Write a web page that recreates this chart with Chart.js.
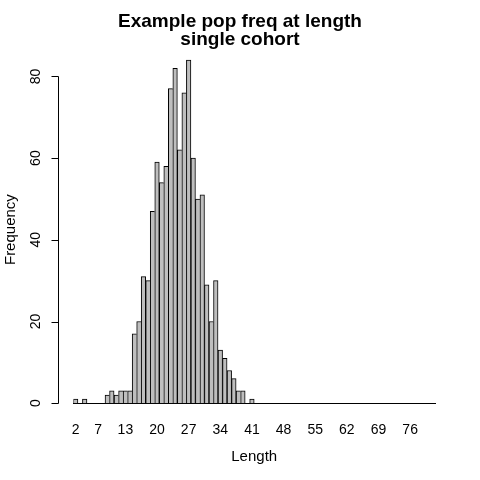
<!DOCTYPE html>
<html>
<head>
<meta charset="utf-8">
<script src="https://cdn.jsdelivr.net/npm/chart.js@4"></script>
<style>
  html, body { margin: 0; padding: 0; background: #fff; }
  #wrap { width: 480px; height: 480px; }
</style>
</head>
<body>
<div id="wrap"><canvas id="histChart"></canvas></div>
<script>
const lengths = [2, 3, 4, 5, 6, 7, 8, 9, 10, 11, 12, 13, 14, 15, 16, 17, 18, 19, 20, 21,
  22, 23, 24, 25, 26, 27, 28, 29, 30, 31, 32, 33, 34, 35, 36, 37, 38, 39, 40, 41,
  42, 43, 44, 45, 46, 47, 48, 49, 50, 51, 52, 53, 54, 55, 56, 57, 58, 59, 60, 61,
  62, 63, 64, 65, 66, 67, 68, 69, 70, 71, 72, 73, 74, 75, 76, 77, 78, 79, 80, 81];
const freq = [1, 0, 1, 0, 0, 0, 0, 2, 3, 2, 3, 3, 3, 17, 20, 31, 30, 47, 59, 54,
  58, 77, 82, 62, 76, 84, 60, 50, 51, 29, 20, 30, 13, 11, 8, 6, 3, 3, 0, 1,
  0, 0, 0, 0, 0, 0, 0, 0, 0, 0, 0, 0, 0, 0, 0, 0, 0, 0, 0, 0,
  0, 0, 0, 0, 0, 0, 0, 0, 0, 0, 0, 0, 0, 0, 0, 0, 0, 0, 0, 0];
const xTickLabels = [2, 7, 13, 20, 27, 34, 41, 48, 55, 62, 69, 76];
const yTicks = [0, 20, 40, 60, 80];

const FONT = "'Liberation Sans', Arial, Helvetica, sans-serif";

// R style left axis: line from first to last tick, rotated labels
const rAxisY = {
  id: "rAxisY",
  afterDraw(chart) {
    const { ctx, scales: { y } } = chart;
    const axisX = 58.5;
    ctx.save();
    ctx.strokeStyle = "#000";
    ctx.lineWidth = 1;
    ctx.beginPath();
    ctx.moveTo(axisX, Math.round(y.getPixelForValue(yTicks[0])) + 0.5);
    ctx.lineTo(axisX, Math.round(y.getPixelForValue(yTicks[yTicks.length - 1])) + 0.5);
    yTicks.forEach((v) => {
      const py = Math.round(y.getPixelForValue(v)) + 0.5;
      ctx.moveTo(axisX - 7, py);
      ctx.lineTo(axisX, py);
    });
    ctx.stroke();
    ctx.fillStyle = "#000";
    ctx.font = "14px " + FONT;
    ctx.textAlign = "center";
    ctx.textBaseline = "alphabetic";
    yTicks.forEach((v) => {
      ctx.save();
      ctx.translate(40, y.getPixelForValue(v));
      ctx.rotate(-Math.PI / 2);
      ctx.fillText(String(v), 0, 0);
      ctx.restore();
    });
    ctx.restore();
  },
};

new Chart(document.getElementById("histChart"), {
  type: "bar",
  data: {
    labels: lengths,
    datasets: [
      {
        data: freq,
        backgroundColor: "#bebebe",
        borderColor: "#000",
        borderSkipped: false,
        borderWidth: (c) => {
          const v = freq[c.dataIndex];
          const next = c.dataIndex + 1 < freq.length ? freq[c.dataIndex + 1] : 0;
          return { top: 1, left: 1, right: next < v ? 1 : 0, bottom: 0 };
        },
        categoryPercentage: 1,
        barPercentage: 1,
      },
    ],
  },
  options: {
    responsive: true,
    maintainAspectRatio: false,
    animation: false,
    layout: { padding: { left: 0, right: 0, top: 0, bottom: 14 } },
    plugins: {
      legend: { display: false },
      tooltip: { enabled: false },
      title: {
        display: true,
        text: ["Example pop freq at length", "single cohort"],
        color: "#000",
        font: { family: FONT, size: 19, weight: "bold", lineHeight: "18px" },
        padding: { top: 13.1, bottom: 6.9 },
      },
    },
    scales: {
      x: {
        grid: { display: false, drawTicks: false },
        border: { display: true, color: "#000", width: 1 },
        ticks: {
          autoSkip: false,
          maxRotation: 0,
          minRotation: 0,
          padding: 19,
          color: "#000",
          font: { family: FONT, size: 14 },
          callback: function (value) {
            const lab = lengths[value];
            return xTickLabels.includes(lab) ? String(lab) : "";
          },
        },
        title: {
          display: true,
          text: "Length",
          color: "#000",
          font: { family: FONT, size: 15 },
          // tick padding is counted twice in the axis height, so pull the title box back up
          padding: { top: -10, bottom: 0 },
        },
      },
      y: {
        min: 0,
        max: 85,
        grid: { display: false, drawTicks: false },
        border: { display: false },
        ticks: { display: false },
        title: {
          display: true,
          text: "Frequency",
          color: "#000",
          font: { family: FONT, size: 15 },
          padding: { top: 2, bottom: 53.4 },
        },
      },
      // empty right margin so the main title stays centred on the whole page
      yRight: {
        position: "right",
        display: true,
        grid: { display: false, drawTicks: false },
        border: { display: false },
        ticks: { display: false },
        afterFit: (s) => { s.width = 45; },
      },
    },
  },
  plugins: [rAxisY],
});
</script>
</body>
</html>
